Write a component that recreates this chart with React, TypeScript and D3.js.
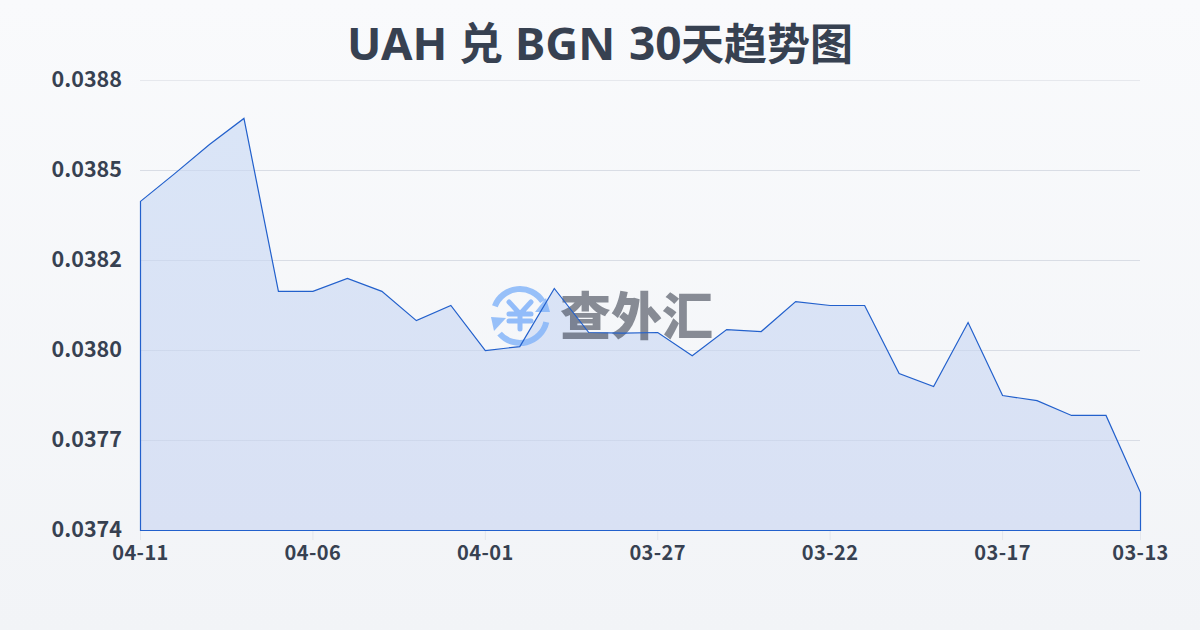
import React from "react";
import * as d3 from "d3";

const dates = ["04-11","04-10","04-09","04-08","04-07","04-06","04-05","04-04","04-03","04-02","04-01","03-31","03-30","03-29","03-28","03-27","03-26","03-25","03-24","03-23","03-22","03-21","03-20","03-19","03-18","03-17","03-16","03-15","03-14","03-13"];
const rates = [0.038424,0.038511,0.038601,0.038682,0.038144,0.038144,0.038184,0.038144,0.038053,0.0381,0.03796,0.037972,0.038153,0.038016,0.038014,0.038016,0.037944,0.038025,0.038019,0.038112,0.0381,0.0381,0.037888,0.037848,0.038047,0.03782,0.037804,0.037758,0.037758,0.037518];
const yTicks = [0.0374,0.03768,0.03796,0.03824,0.03852,0.0388];
const watermark = "查外汇";
const font = "'Noto Sans CJK SC',sans-serif";
const latin = "'Noto Sans','Noto Sans CJK SC',sans-serif";

export default function App() {
  const x = d3.scaleLinear().domain([0, dates.length - 1]).range([140.5, 1140.5]);
  const y = d3.scaleLinear().domain([0.0374, 0.0388]).range([530.5, 80.5]);
  const area = d3.area<number>().x((_, i) => x(i)).y0(y(0.0374)).y1((d) => y(d));
  const xTickIdx = d3.range(0, dates.length, 5).concat(dates.length - 1);
  const iconArc = d3.arc();
  const arcA = iconArc({ innerRadius: 24, outerRadius: 30, startAngle: -1.2, endAngle: 1.0 } as any) as string;
  const arcB = iconArc({ innerRadius: 24, outerRadius: 30, startAngle: 1.8, endAngle: 4.0 } as any) as string;
  return (
    <svg width={1200} height={630} style={{ position: "fixed", left: 0, top: 0, display: "block" }}>
      <defs>
        <linearGradient id="bg" x1="0" y1="0" x2="0" y2="1">
          <stop offset="0" stopColor="#f9fafc" />
          <stop offset="1" stopColor="#f2f4f7" />
        </linearGradient>
        <linearGradient id="fill" x1="0" y1="0" x2="0" y2="1">
          <stop offset="0" stopColor="#dae5f7" />
          <stop offset="1" stopColor="#d9e1f4" />
        </linearGradient>
      </defs>
      <rect width={1200} height={630} fill="url(#bg)" />
      <g fontWeight={700} fill="#374151">
        <text x={347} y={60} fontFamily={latin} fontSize={45.5}>UAH</text>
        <text x={459} y={60} fontFamily={font} fontSize={44}>兑</text>
        <text x={515} y={60} fontFamily={latin} fontSize={45.5}>BGN</text>
        <text x={629} y={60} fontFamily={latin} fontSize={46}>30</text>
        <text x={681} y={60} fontFamily={font} fontSize={43}>天趋势图</text>
      </g>
      {yTicks.map((t) => (
        <g key={t}>
          <line x1={140} x2={1140} y1={y(t)} y2={y(t)} stroke="#e6e8ed" strokeWidth={1} />
          <text x={122} y={y(t) + 6} textAnchor="end" fontFamily={font} fontWeight={700} fontSize={21.5} fill="#374151">{t.toFixed(4)}</text>
        </g>
      ))}
      <path d={area(rates) as string} fill="url(#fill)" />
      {yTicks.slice(1, 5).map((t) => (
        <line key={t} x1={140} x2={1140} y1={y(t)} y2={y(t)} stroke="#8f9bb5" strokeOpacity={0.14} strokeWidth={1} />
      ))}
      {xTickIdx.map((i) => (
        <g key={i}>
          <line x1={x(i)} x2={x(i)} y1={530} y2={540} stroke="#e3e6ec" />
          <text x={x(i)} y={560} textAnchor="middle" fontFamily={font} fontWeight={700} fontSize={20} letterSpacing={0.4} fill="#374151">{dates[i]}</text>
        </g>
      ))}
      <g transform="translate(520,316)" fill="#80b2f9" fillOpacity={0.8}>
        <path d={arcA} />
        <path d={arcB} />
        <path d="M15,-4 L30,-4 L26,-18 Z" />
        <path d="M-29,1 L-14,2 L-26,15 Z" />
        <path d="M-11,-14 L0,-2 L11,-14 M-11,-2 H11 M-11,5 H11 M0,-2 V13" fill="none" stroke="#80b2f9" strokeOpacity={0.85} strokeWidth={5} strokeLinecap="round" strokeLinejoin="round" />
      </g>
      <text x={560} y={335} fontFamily={font} fontWeight={900} fontSize={51} fill="#2b3342" fillOpacity={0.55}>{watermark}</text>
      <path d={area(rates) as string} fill="none" stroke="#2260cc" strokeWidth={1.2} />
    </svg>
  );
}
